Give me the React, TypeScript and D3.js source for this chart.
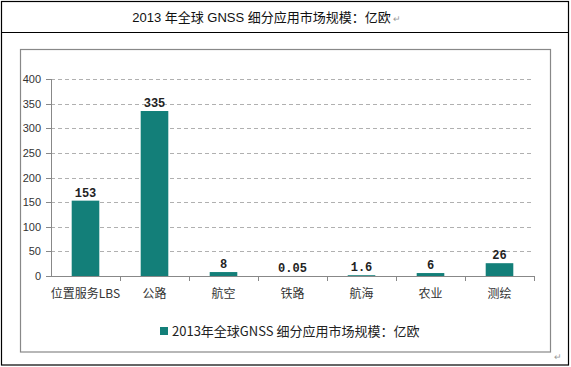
import React from 'react';
import * as d3 from 'd3';

const categories = ['位置服务LBS', '公路', '航空', '铁路', '航海', '农业', '测绘'];
const values = [153, 335, 8, 0.05, 1.6, 6, 26];
const valueLabels = ['153', '335', '8', '0.05', '1.6', '6', '26'];
const yTicks = [0, 50, 100, 150, 200, 250, 300, 350, 400];
const title = '2013 年全球 GNSS 细分应用市场规模：亿欧';
const legendLabel = '2013年全球GNSS 细分应用市场规模：亿欧';

const W = 571, H = 367;
const plot = { left: 51, right: 534, top: 79, bottom: 276 };
const barColor = '#137f79';

export default function App() {
  const x = d3.scaleBand().domain(categories).range([plot.left, plot.right]).paddingInner(0.6).paddingOuter(0.3);
  const band = d3.scaleBand().domain(categories).range([plot.left, plot.right]);
  const y = d3.scaleLinear().domain([0, 400]).range([plot.bottom, plot.top]);

  const cjk = '"Noto Sans CJK SC", sans-serif';

  return (
    <svg width={W} height={H} style={{ position: 'absolute', left: 0, top: 0, background: '#fff' }}>
      {/* table borders */}
      <rect x={1.5} y={1.5} width={567} height={363.5} fill="none" stroke="#000" strokeWidth={1.2} />
      <line x1={1.5} x2={568.5} y1={32.5} y2={32.5} stroke="#000" strokeWidth={1.2} />
      <text x={261.5} y={22} textAnchor="middle" fontSize={13} fontFamily={'"Liberation Sans", ' + cjk} fill="#111">{title}</text>
      <text x={393} y={22} fontSize={9} fill="#999" fontFamily={cjk}>↵</text>

      {/* chart frame */}
      <rect x={20.5} y={49.5} width={530} height={302.5} fill="none" stroke="#888" strokeWidth={1.2} />

      {/* gridlines */}
      {yTicks.filter(t => t > 0).map(t => (
        <line key={t} x1={plot.left} x2={plot.right} y1={Math.round(y(t)) + 0.5} y2={Math.round(y(t)) + 0.5}
          stroke="#b0b0b0" strokeDasharray="4,3" />
      ))}

      {/* bars */}
      {categories.map((c, i) => (
        <rect key={c} x={x(c)} y={y(values[i])} width={x.bandwidth()} height={plot.bottom - y(values[i])} fill={barColor} />
      ))}

      {/* axes */}
      <line x1={plot.left + 0.5} x2={plot.left + 0.5} y1={plot.top} y2={plot.bottom + 0.5} stroke="#888" />
      {yTicks.map(t => (
        <g key={t}>
          <line x1={plot.left - 5} x2={plot.left} y1={Math.round(y(t)) + 0.5} y2={Math.round(y(t)) + 0.5} stroke="#888" />
          <text x={41} y={y(t) + 4} textAnchor="end" fontSize={11} fontFamily='"Liberation Sans", sans-serif' fill="#333">{t}</text>
        </g>
      ))}
      <line x1={plot.left} x2={plot.right + 0.5} y1={plot.bottom + 0.5} y2={plot.bottom + 0.5} stroke="#888" />
      {categories.map(c => (
        <line key={c} x1={(band(c) as number) + band.bandwidth() + 0.5} x2={(band(c) as number) + band.bandwidth() + 0.5}
          y1={plot.bottom} y2={plot.bottom + 5} stroke="#888" />
      ))}
      {categories.map(c => (
        <text key={c} x={(band(c) as number) + band.bandwidth() / 2} y={298} textAnchor="middle" fontSize={12}
          fontFamily={cjk} fill="#333">{c}</text>
      ))}

      {/* value labels */}
      {categories.map((c, i) => (
        <text key={c} x={(x(c) as number) + x.bandwidth() / 2} y={y(values[i]) - 4} textAnchor="middle" fontSize={12}
          fontWeight="bold" fontFamily='"Liberation Mono", monospace' fill="#222">{valueLabels[i]}</text>
      ))}

      {/* legend */}
      <rect x={160} y={327} width={8} height={8} fill={barColor} />
      <text x={172} y={336} fontSize={13} fontFamily={cjk} fill="#222">{legendLabel}</text>
      <text x={554} y={360} fontSize={9} fill="#999" fontFamily={cjk}>↵</text>
    </svg>
  );
}
